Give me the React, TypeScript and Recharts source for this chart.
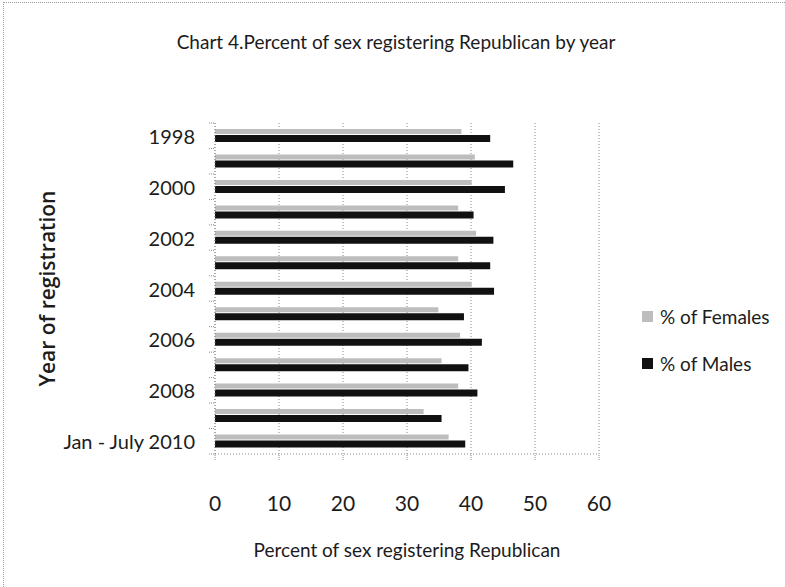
import { Bar, BarChart, CartesianGrid, Label, XAxis, YAxis } from 'recharts'

const years = [
  '1998', '1999', '2000', '2001', '2002', '2003', '2004',
  '2005', '2006', '2007', '2008', '2009', 'Jan - July 2010',
]
const femalePct = [38.5, 40.6, 40.1, 38.0, 40.8, 38.0, 40.1, 34.9, 38.3, 35.4, 38.0, 32.6, 36.5]
const malePct = [43.0, 46.6, 45.3, 40.4, 43.5, 43.0, 43.6, 38.9, 41.7, 39.6, 41.0, 35.4, 39.1]
const xTicks = [0, 10, 20, 30, 40, 50, 60]
const seriesNames = ['% of Females', '% of Males']

const FONT = "Lato, 'DejaVu Sans Condensed', sans-serif"
const TEXT = '#1c1c1c'
const FEMALE = '#bdbdbd'
const MALE = '#111111'
const GRID = '#8a8a8a'
const TICK_SIZE = 6
const TICK_MARGIN = 14

const chartData = years.map((year, i) => ({
  year,
  females: femalePct[i],
  males: malePct[i],
}))

// category ticks: label every other year, tick marks on every band boundary (Excel style)
function YTick(props: any) {
  const { x, y, payload, index } = props
  const half = payload?.offset ?? 0
  const x1 = x + TICK_MARGIN
  const x2 = x + TICK_MARGIN + TICK_SIZE
  return (
    <g>
      <line x1={x1} x2={x2} y1={y - half} y2={y - half} stroke={GRID} strokeDasharray="1 1" />
      {index === years.length - 1 && (
        <line x1={x1} x2={x2} y1={y + half} y2={y + half} stroke={GRID} strokeDasharray="1 1" />
      )}
      {index % 2 === 0 && (
        <text x={x} y={y} textAnchor="end" dominantBaseline="central" fill={TEXT} fontSize={20} fontFamily={FONT}>
          {payload.value}
        </text>
      )}
    </g>
  )
}

function YTitle({ viewBox }: { viewBox?: { x: number; y: number; width: number; height: number } }) {
  if (!viewBox) return null
  const cx = 47
  const cy = viewBox.y + viewBox.height / 2
  return (
    <text
      x={cx}
      y={cy}
      transform={`rotate(-90 ${cx} ${cy})`}
      textAnchor="middle"
      dominantBaseline="central"
      fill={TEXT}
      fontSize={21}
      fontWeight={600}
      fontFamily="'Open Sans', sans-serif"
    >
      Year of registration
    </text>
  )
}

function LegendBox() {
  const colors = [FEMALE, MALE]
  return (
    <div
      style={{
        position: 'absolute',
        left: 642,
        top: 293,
        fontFamily: FONT,
        fontSize: 19,
        color: TEXT,
      }}
    >
      {seriesNames.map((label, i) => (
        <div key={label} style={{ display: 'flex', alignItems: 'center', height: 47 }}>
          <span
            style={{ display: 'inline-block', width: 11, height: 11, background: colors[i], marginRight: 7 }}
          />
          <span>{label}</span>
        </div>
      ))}
    </div>
  )
}

export default function App() {
  return (
    <div
      style={{
        position: 'absolute',
        left: 0,
        top: 0,
        width: 785,
        height: 587,
        background: '#fff',
      }}
    >
      <div
        style={{
          position: 'absolute',
          left: 3,
          top: 2,
          right: 0,
          bottom: 0,
          borderTop: '1px dotted #999',
          borderLeft: '1px dotted #999',
        }}
      />
      <div
        style={{
          position: 'absolute',
          top: 30,
          left: 146,
          width: 500,
          textAlign: 'center',
          fontFamily: FONT,
          fontSize: 19,
          color: TEXT,
          whiteSpace: 'nowrap',
        }}
      >
        Chart 4.Percent of sex registering Republican by year
      </div>
      <BarChart
        width={785}
        height={587}
        data={chartData}
        layout="vertical"
        margin={{ top: 123, right: 186, bottom: 0, left: 0 }}
        barCategoryGap={0}
        barGap={1}
        style={{ position: 'absolute', left: 0, top: 0 }}
      >
        <CartesianGrid horizontal={false} stroke={GRID} strokeDasharray="1 2" />
        <YAxis
          type="category"
          dataKey="year"
          width={215}
          interval={0}
          tickSize={TICK_SIZE}
          tickMargin={TICK_MARGIN}
          tickLine={false}
          axisLine={{ stroke: GRID, strokeDasharray: '1 2' }}
          tick={<YTick />}
        >
          <Label content={<YTitle />} />
        </YAxis>
        <XAxis
          type="number"
          domain={[0, 60]}
          ticks={xTicks}
          height={133}
          tickSize={6}
          tickMargin={36}
          axisLine={{ stroke: GRID, strokeDasharray: '1 2' }}
          tickLine={{ stroke: GRID, strokeDasharray: '1 1' }}
          tick={{ fill: TEXT, fontSize: 21, fontFamily: FONT }}
        >
          <Label
            value="Percent of sex registering Republican"
            position="insideBottom"
            offset={30}
            fill={TEXT}
            fontSize={19}
            fontFamily={FONT}
          />
        </XAxis>
        <Bar dataKey="females" name={seriesNames[0]} fill={FEMALE} barSize={5} isAnimationActive={false} />
        <Bar dataKey="males" name={seriesNames[1]} fill={MALE} barSize={7} isAnimationActive={false} />
      </BarChart>
      <LegendBox />
    </div>
  )
}
